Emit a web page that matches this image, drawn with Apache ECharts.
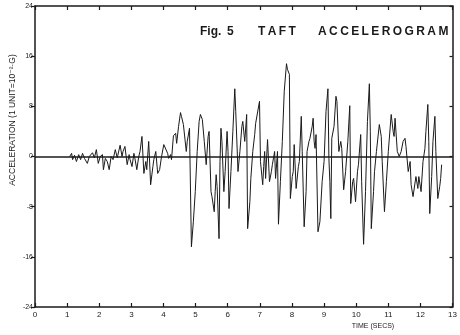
<!DOCTYPE html>
<html>
<head>
<meta charset="utf-8">
<script src="https://cdn.jsdelivr.net/npm/echarts@6/dist/echarts.min.js"></script>
<style>
html,body{margin:0;padding:0;background:#fff;}
#chart{width:460px;height:335px;}
</style>
</head>
<body>
<div id="chart"></div>
<script>
// Time in seconds
var timeSecs = [
1.08,1.14,1.17,1.23,1.29,1.36,1.42,1.48,1.54,1.63,1.69,1.79,1.85,1.91,1.97,2.03,2.10,2.13,2.19,2.25,
2.31,2.37,2.43,2.50,2.56,2.65,2.71,2.74,2.80,2.87,2.93,2.96,3.02,3.08,3.11,3.17,3.23,3.27,3.33,3.39,
3.45,3.48,3.54,3.60,3.67,3.70,3.76,3.82,3.88,3.94,4.01,4.07,4.13,4.16,4.22,4.25,4.31,4.38,4.41,4.47,
4.53,4.56,4.62,4.65,4.71,4.74,4.81,4.87,4.93,4.99,5.05,5.11,5.15,5.21,5.24,5.27,5.33,5.39,5.42,5.48,
5.51,5.58,5.61,5.64,5.67,5.73,5.76,5.79,5.82,5.88,5.92,5.98,6.01,6.04,6.10,6.16,6.22,6.25,6.32,6.38,
6.44,6.47,6.53,6.59,6.62,6.69,6.72,6.78,6.84,6.87,6.93,6.99,7.02,7.09,7.12,7.15,7.18,7.24,7.30,7.36,
7.39,7.46,7.49,7.55,7.58,7.64,7.70,7.76,7.83,7.86,7.92,7.95,8.01,8.04,8.07,8.13,8.20,8.23,8.29,8.32,
8.38,8.44,8.47,8.53,8.56,8.63,8.66,8.69,8.72,8.75,8.81,8.87,8.94,9.00,9.06,9.12,9.15,9.18,9.21,9.24,
9.31,9.37,9.40,9.46,9.52,9.55,9.61,9.67,9.74,9.80,9.83,9.89,9.92,9.98,10.04,10.07,10.14,10.17,10.23,10.29,
10.35,10.41,10.44,10.47,10.54,10.57,10.63,10.72,10.78,10.81,10.88,10.94,11.00,11.09,11.15,11.18,11.21,11.28,11.34,11.40,
11.46,11.52,11.55,11.62,11.68,11.71,11.77,11.80,11.86,11.92,11.95,12.02,12.08,12.14,12.17,12.23,12.26,12.29,12.35,12.39,
12.45,12.48,12.54,12.60,12.63,12.66
];
// Acceleration (1 unit = 10^-2 g)
var acceleration = [
0,0.5,-0.5,0.2,-0.8,0.3,-0.5,0.5,-0.3,-1.1,0,0.6,-0.2,1.1,-1.1,0,0.3,-2.1,-0.3,-0.8,
-2.1,0,-0.5,1.1,-0.2,1.8,0,0.8,1.6,-1.3,0.3,-0.5,-1.6,0.5,-0.3,-2.1,0,0.8,3.2,-2.7,
-0.8,-2.1,2.4,-4.5,-1.6,-0.5,0.8,-2.7,-2.1,0,1.9,1.6,0.5,-0.3,0.3,-0.5,3.3,3.7,2.1,4.8,
7.0,6.4,5.1,5.3,0.8,2.4,4.5,-14.4,-10.4,-5.6,0.8,5.6,6.7,5.9,5.6,2.4,-1.3,3.2,4.0,-5.6,
-6.4,-8.8,-5.6,-2.9,-4.8,-13.1,-0.8,4.5,2.4,-5.6,-2.4,4.0,0.8,-8.3,-2.4,4.0,10.8,7.2,-2.4,0.8,
4.8,5.6,2.4,6.7,-11.5,-7.2,-3.5,0.8,3.5,5.3,5.6,8.8,-0.8,-4.5,-1.6,0.8,-3.5,2.7,-4.0,-2.4,
-1.3,0.8,-3.5,0.8,-10.8,-4.0,2.4,10.4,14.8,13.9,13.1,-6.7,-3.2,-2.4,1.9,-5.1,-1.6,-0.8,6.4,0.8,
-11.2,-5.6,0.8,2.4,2.9,4.8,6.1,2.4,1.3,3.5,-12.0,-10.4,-4.0,-0.8,7.2,10.8,-0.3,-4.0,-9.9,2.9,
4.8,9.6,8.8,0.8,2.4,1.3,-5.3,-2.4,2.4,8.1,-7.5,-4.0,-3.5,-7.2,-2.4,-1.3,3.5,-4.0,-14.0,-5.6,
5.6,11.6,4.0,-11.5,-5.6,-2.4,0.8,5.1,3.2,-0.8,-8.8,-4.0,0.8,6.7,4.0,3.2,6.1,0.8,0,0.8,
2.4,2.9,1.6,-2.4,-0.8,-4.5,-6.4,-6.4,-3.2,-5.1,-3.2,-5.6,-0.8,1.3,4.0,8.3,2.4,-9.1,-3.2,2.4,
6.4,0.8,-6.7,-4.8,-3.5,-1.3
];
var xTickLabels = ['0','1','2','3','4','5','6','7','8','9','10','11','12','13'];
var yTickLabels = ['-24','-16','-8','0','8','16','24'];

var seriesData = timeSecs.map(function (t, i) { return [t, acceleration[i]]; });

var ink = '#1a1a1a';
var fontFam = '"Liberation Sans", "DejaVu Sans", sans-serif';

var chart = echarts.init(document.getElementById('chart'), null, {renderer: 'canvas'});
chart.setOption({
  backgroundColor: '#ffffff',
  animation: false,
  grid: {left: 35, right: 3, top: 6, bottom: 28},
  xAxis: [{
    type: 'value', min: 0, max: 13, interval: 1, position: 'bottom',
    axisLine: {show: true, onZero: false, lineStyle: {color: ink, width: 1.5}},
    axisTick: {show: true, inside: true, length: 4, lineStyle: {color: ink, width: 1.2}},
    axisLabel: {color: ink, fontSize: 8, fontFamily: fontFam, margin: 4,
      formatter: function (v) { return xTickLabels[Math.round(v)]; }},
    splitLine: {show: false}
  }, {
    type: 'value', min: 0, max: 13, interval: 1, position: 'top',
    axisLine: {show: true, onZero: false, lineStyle: {color: ink, width: 1.5}},
    axisTick: {show: true, inside: true, length: 4, lineStyle: {color: ink, width: 1.2}},
    axisLabel: {show: false},
    splitLine: {show: false}
  }],
  yAxis: [{
    type: 'value', min: -24, max: 24, interval: 8, position: 'left',
    axisLine: {show: true, onZero: false, lineStyle: {color: ink, width: 1.5}},
    axisTick: {show: true, inside: false, length: 4, lineStyle: {color: ink, width: 1.2}},
    axisLabel: {color: ink, fontSize: 7, fontFamily: fontFam, margin: 2,
      formatter: function (v) { return yTickLabels[Math.round((v + 24) / 8)]; }},
    splitLine: {show: false}
  }, {
    type: 'value', min: -24, max: 24, interval: 8, position: 'right',
    axisLine: {show: true, onZero: false, lineStyle: {color: ink, width: 1.5}},
    axisTick: {show: true, inside: true, length: 3, lineStyle: {color: ink, width: 1.2}},
    axisLabel: {show: false},
    splitLine: {show: false}
  }],
  series: [{
    type: 'line',
    data: seriesData,
    xAxisIndex: 0, yAxisIndex: 0,
    showSymbol: false, symbol: 'none',
    lineStyle: {color: ink, width: 1},
    silent: true,
    markLine: {
      silent: true, symbol: 'none',
      label: {show: false},
      lineStyle: {color: ink, width: 1.6, type: 'solid'},
      data: [{yAxis: 0}]
    }
  }],
  graphic: [
    {type: 'text', left: 200, top: 26,
      style: {text: 'Fig.\u2009 5', fill: ink, font: 'bold 12px ' + fontFam}},
    {type: 'text', left: 258, top: 26,
      style: {text: 'T\u2009A\u2009F\u2009T', fill: ink, font: 'bold 12px ' + fontFam}},
    {type: 'text', left: 318, top: 26,
      style: {text: 'A\u2009C\u2009C\u2009E\u2009L\u2009E\u2009R\u2009O\u2009G\u2009R\u2009A\u2009M', fill: ink, font: 'bold 12px ' + fontFam}},
    {type: 'text', x: 13, y: 120, rotation: Math.PI / 2,
      style: {text: 'ACCELERATION (1 UNIT=10\u207B\u00B2\u00B7G)', fill: ink, font: '8.5px ' + fontFam,
        align: 'center', verticalAlign: 'middle'}},
    {type: 'text', x: 373, y: 326,
      style: {text: 'TIME (SECS)', fill: ink, font: '7px ' + fontFam,
        align: 'center', verticalAlign: 'middle'}}
  ]
});
</script>
</body>
</html>
